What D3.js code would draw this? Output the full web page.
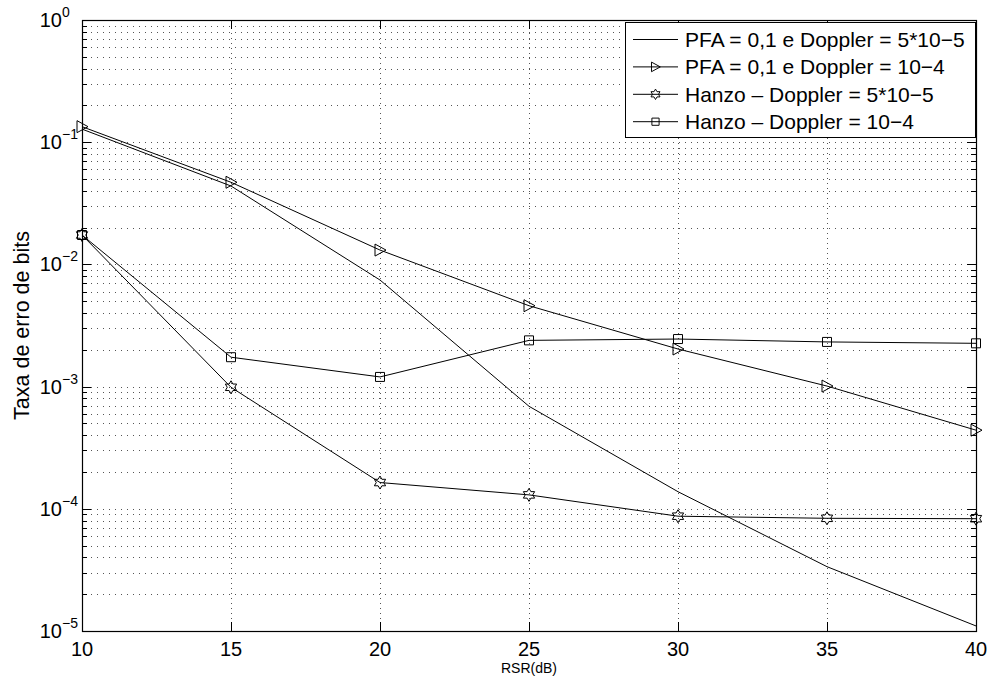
<!DOCTYPE html>
<html>
<head>
<meta charset="utf-8">
<script src="https://cdn.jsdelivr.net/npm/d3@7"></script>
<style>
  body { margin: 0; background: #fff; }
  text { font-family: "Liberation Sans", Arial, sans-serif; fill: #000; }
</style>
</head>
<body>
<svg id="chart" width="990" height="681"></svg>
<script>
const rsr = [10, 15, 20, 25, 30, 35, 40];
const pfaDoppler5 = [0.128, 0.0438, 0.00745, 0.00069, 0.000138, 0.0000336, 0.000011];
const pfaDoppler4 = [0.134, 0.047, 0.0131, 0.00459, 0.00203, 0.00101, 0.00044];
const hanzoDoppler5 = [0.0174, 0.000987, 0.000164, 0.00013, 0.000087, 0.0000836, 0.000083];
const hanzoDoppler4 = [0.0174, 0.00174, 0.0012, 0.00239, 0.00245, 0.00232, 0.00226];
const seriesNames = [
    "PFA = 0,1 e Doppler = 5*10\u22125",
    "PFA = 0,1 e Doppler = 10\u22124",
    "Hanzo \u2013 Doppler = 5*10\u22125",
    "Hanzo \u2013 Doppler = 10\u22124"
];
const xTicks = [10, 15, 20, 25, 30, 35, 40];
const yExponents = [0, -1, -2, -3, -4, -5];

const plotLeft = 82, plotRight = 976, plotTop = 20, plotBottom = 631;

const svg = d3.select("#chart");
const xScale = d3.scaleLinear().domain([10, 40]).range([plotLeft, plotRight]);
const yScale = d3.scaleLog().domain([1e-5, 1]).range([plotBottom, plotTop]);

const series = [
    {values: pfaDoppler5, marker: "none"},
    {values: pfaDoppler4, marker: "triangle"},
    {values: hanzoDoppler5, marker: "hexagram"},
    {values: hanzoDoppler4, marker: "square"}
];

// grid (dotted, major and minor)
const grid = svg.append("g")
    .attr("stroke", "#555")
    .attr("stroke-width", 1)
    .attr("stroke-dasharray", "1,5");

const yGridValues = yScale.ticks().filter(function (v) { return v > 1e-5 && v < 1; });
grid.selectAll(".hgrid").data(yGridValues).enter()
    .append("line")
    .attr("x1", plotLeft + 3).attr("x2", plotRight)
    .attr("y1", function (d) { return Math.round(yScale(d)) + 0.5; })
    .attr("y2", function (d) { return Math.round(yScale(d)) + 0.5; });

grid.selectAll(".vgrid").data(xTicks.slice(1, -1)).enter()
    .append("line")
    .attr("y1", plotTop + 3).attr("y2", plotBottom)
    .attr("stroke-dasharray", "1,4")
    .attr("x1", function (d) { return Math.round(xScale(d)) + 0.5; })
    .attr("x2", function (d) { return Math.round(xScale(d)) + 0.5; });

// tick marks inside the box
const ticks = svg.append("g").attr("stroke", "#000").attr("stroke-width", 1);
yScale.ticks().forEach(function (v) {
    const major = Math.abs(Math.log10(v) - Math.round(Math.log10(v))) < 1e-9;
    const len = major ? 9 : 5;
    const yy = Math.round(yScale(v)) + 0.5;
    ticks.append("line").attr("x1", plotLeft).attr("x2", plotLeft + len).attr("y1", yy).attr("y2", yy);
    ticks.append("line").attr("x1", plotRight).attr("x2", plotRight - len).attr("y1", yy).attr("y2", yy);
});
xTicks.forEach(function (v) {
    const xx = Math.round(xScale(v)) + 0.5;
    ticks.append("line").attr("x1", xx).attr("x2", xx).attr("y1", plotBottom).attr("y2", plotBottom - 9);
    ticks.append("line").attr("x1", xx).attr("x2", xx).attr("y1", plotTop).attr("y2", plotTop + 9);
});

// box
svg.append("rect")
    .attr("x", plotLeft + 0.5).attr("y", plotTop + 0.5)
    .attr("width", plotRight - plotLeft).attr("height", plotBottom - plotTop)
    .attr("fill", "none").attr("stroke", "#000").attr("stroke-width", 1.2);

// tick labels
svg.selectAll(".xlabel").data(xTicks).enter()
    .append("text")
    .attr("x", function (d) { return xScale(d); })
    .attr("y", 656)
    .attr("text-anchor", "middle")
    .attr("font-size", 20)
    .text(function (d) { return d; });

yExponents.forEach(function (e) {
    const yy = yScale(Math.pow(10, e));
    svg.append("text")
        .attr("x", 62).attr("y", yy + 7)
        .attr("text-anchor", "end")
        .attr("font-size", 20)
        .text("10");
    svg.append("text")
        .attr("x", 62).attr("y", yy - 3)
        .attr("font-size", 14)
        .text(e === 0 ? "0" : "\u2212" + Math.abs(e));
});

svg.append("text")
    .attr("x", (plotLeft + plotRight) / 2).attr("y", 673)
    .attr("text-anchor", "middle")
    .attr("font-size", 14)
    .text("RSR(dB)");

svg.append("text")
    .attr("transform", "translate(29," + (plotTop + plotBottom) / 2 + ") rotate(-90)")
    .attr("text-anchor", "middle")
    .attr("font-size", 21.5)
    .text("Taxa de erro de bits");

// markers
function hexagram(r) {
    const pts = [];
    for (let i = 0; i < 12; i++) {
        const a = -Math.PI / 2 + i * Math.PI / 6;
        const rr = i % 2 === 0 ? r : r / Math.sqrt(3);
        pts.push([rr * Math.cos(a), rr * Math.sin(a)]);
    }
    return "M" + pts.map(function (p) { return p[0].toFixed(2) + "," + p[1].toFixed(2); }).join("L") + "Z";
}
function markerPath(type) {
    if (type === "triangle") return "M-5,-6L6,0L-5,6Z";
    if (type === "square") return "M-4.5,-4.5H4.5V4.5H-4.5Z";
    if (type === "hexagram") return hexagram(6.5);
    return null;
}

const line = d3.line()
    .x(function (d) { return xScale(d[0]); })
    .y(function (d) { return yScale(d[1]); });

series.forEach(function (s) {
    const pts = rsr.map(function (x, i) { return [x, s.values[i]]; });
    svg.append("path")
        .datum(pts)
        .attr("d", line)
        .attr("fill", "none")
        .attr("stroke", "#000")
        .attr("stroke-width", 1);
    const mp = markerPath(s.marker);
    if (mp) {
        svg.selectAll(null).data(pts).enter()
            .append("path")
            .attr("d", mp)
            .attr("transform", function (d) { return "translate(" + xScale(d[0]) + "," + yScale(d[1]) + ")"; })
            .attr("fill", "none")
            .attr("stroke", "#000")
            .attr("stroke-width", 1);
    }
});

// legend
const legend = svg.append("g");
legend.append("rect")
    .attr("x", 625.5).attr("y", 22.5)
    .attr("width", 350).attr("height", 115)
    .attr("fill", "#fff").attr("stroke", "#000").attr("stroke-width", 1);

series.forEach(function (s, i) {
    const yy = 39.5 + i * 27.4;
    legend.append("line")
        .attr("x1", 633).attr("x2", 678)
        .attr("y1", yy).attr("y2", yy)
        .attr("stroke", "#000").attr("stroke-width", 1);
    const mp = markerPath(s.marker);
    if (mp) {
        legend.append("path")
            .attr("d", mp)
            .attr("transform", "translate(655.5," + yy + ") scale(0.8)")
            .attr("fill", "none").attr("stroke", "#000").attr("stroke-width", 1.2);
    }
    legend.append("text")
        .attr("x", 685).attr("y", yy + 7.5)
        .attr("font-size", 21)
        .text(seriesNames[i]);
});
</script>
</body>
</html>
